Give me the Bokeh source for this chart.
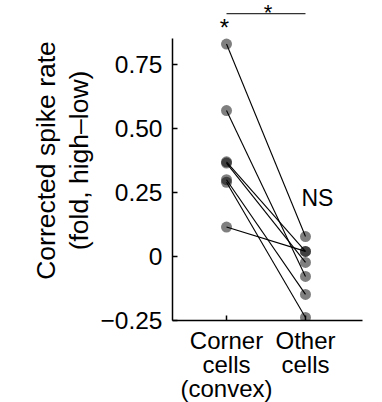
from bokeh.plotting import figure
from bokeh.models import FixedTicker, Range1d
from bokeh.embed import file_html
from bokeh.resources import INLINE
from bokeh.core.properties import value

# ---- data ----
categories = ["Corner\ncells\n(convex)", "Other\ncells"]
cat_pos = [1, 2]
corner = [0.83, 0.57, 0.37, 0.365, 0.30, 0.29, 0.115]
other = [0.078, -0.078, 0.02, -0.023, -0.148, -0.238, 0.02]
y_ticks = [-0.25, 0, 0.25, 0.5, 0.75]
y_tick_labels = ["\u22120.25", "0", "0.25", "0.50", "0.75"]
y_label = "Corrected spike rate\n(fold, high\u2013low)"
sig_corner = "*"
sig_pair = "*"
ns_label = "NS"
sig_bar_y = 0.949

FONT = "Liberation Sans"

p = figure(frame_width=190, frame_height=320, output_backend="svg",
           toolbar_location=None,
           x_range=Range1d(0.316, 2.722), y_range=Range1d(-0.25, 1.0),
           min_border_left=172, min_border_right=20, min_border_top=0,
           min_border_bottom=80)
p.outline_line_color = None
p.grid.visible = False
p.background_fill_color = "white"
p.border_fill_color = "white"

for ax in (p.xaxis[0], p.yaxis[0]):
    ax.axis_line_color = "black"
    ax.axis_line_width = 1.5
    ax.major_tick_in = 5
    ax.major_tick_out = 0
    ax.major_tick_line_color = "black"
    ax.major_tick_line_width = 1.5
    ax.minor_tick_line_color = None
    ax.major_label_text_font = FONT
    ax.major_label_text_color = "black"

p.xaxis.ticker = FixedTicker(ticks=cat_pos)
p.xaxis.major_label_overrides = dict(zip(cat_pos, categories))
p.xaxis.major_label_text_font_size = "24px"
p.xaxis.major_label_text_line_height = 0.9
p.xaxis.major_label_standoff = 6

p.yaxis.ticker = FixedTicker(ticks=y_ticks)
p.yaxis.major_label_overrides = dict(zip(y_ticks, y_tick_labels))
p.yaxis.major_label_text_font_size = "24.5px"
p.yaxis.major_label_standoff = 10
p.yaxis.bounds = (-0.25, 0.852)
p.yaxis.axis_label = y_label
p.yaxis.axis_label_text_font = FONT
p.yaxis.axis_label_text_font_size = "26.5px"
p.yaxis.axis_label_text_font_style = "normal"
p.yaxis.axis_label_text_color = "black"
p.yaxis.axis_label_text_line_height = 1.1
p.yaxis.axis_label_standoff = 4

# points
p.scatter(x=[cat_pos[0]] * len(corner), y=corner, size=11,
          fill_color="black", fill_alpha=0.5, line_color=None)
p.scatter(x=[cat_pos[1]] * len(other), y=other, size=11,
          fill_color="black", fill_alpha=0.5, line_color=None)
# paired lines
p.segment(x0=[cat_pos[0]] * len(corner), y0=corner,
          x1=[cat_pos[1]] * len(other), y1=other,
          line_color="black", line_width=1.1)

# significance annotations
p.segment(x0=[cat_pos[0]], y0=[sig_bar_y], x1=[cat_pos[1]], y1=[sig_bar_y],
          line_color="#333333", line_width=1.2)
p.text(x=[(cat_pos[0] + cat_pos[1]) / 2], y=[1.0], text=[sig_pair],
       text_align="center", text_baseline="top", x_offset=2, y_offset=-1,
       text_font=value(FONT), text_font_size="22px", text_color="black")
p.text(x=[cat_pos[0]], y=[0.895], text=[sig_corner], x_offset=-2,
       text_align="center", text_baseline="alphabetic",
       text_font=value(FONT), text_font_size="24px", text_color="black")
p.text(x=[cat_pos[1]], y=[0.23], text=[ns_label], x_offset=12,
       text_align="center", text_baseline="alphabetic",
       text_font=value(FONT), text_font_size="23px", text_color="black")

open("out.html", "w").write(file_html(p, INLINE))
